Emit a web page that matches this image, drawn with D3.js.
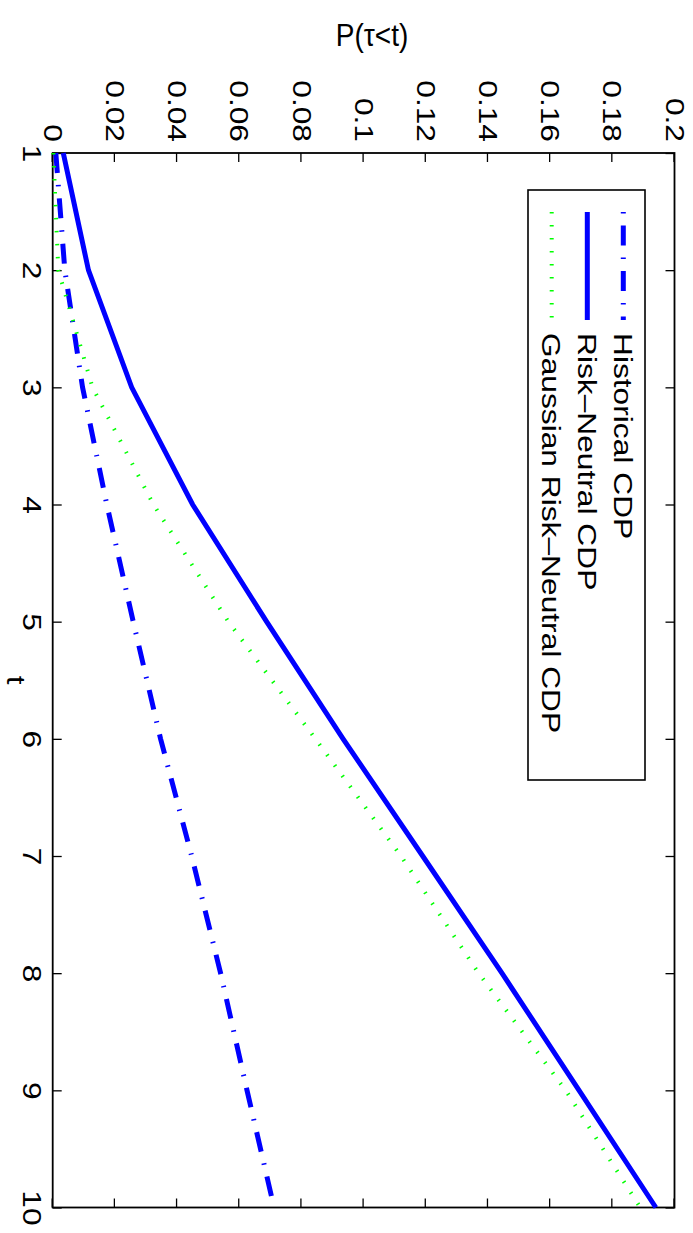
<!DOCTYPE html>
<html lang="en">

<head>
    <meta charset="UTF-8">
    <script src="https://cdnjs.cloudflare.com/ajax/libs/d3/7.9.0/d3.min.js"></script>
    <title>CDP curves</title>
    <style>
        body {
            margin: 0;
            background-color: white;
            font-family: "Liberation Sans", Arial, sans-serif;
        }

        svg {
            display: block;
        }
    </style>
</head>

<body>
    <div id="content"></div>
    <script>
        // data
        const tValues = [1, 2, 3, 4, 5, 6, 7, 8, 9, 10];
        const historical = [0.0010, 0.0039, 0.0096, 0.0174, 0.0259, 0.0347, 0.0447, 0.0540, 0.0625, 0.0712];
        const riskNeutral = [0.0034, 0.0115, 0.0254, 0.0450, 0.0688, 0.0934, 0.1190, 0.1445, 0.1693, 0.1940];
        const gaussian = [0.0002, 0.0018, 0.0128, 0.0324, 0.0565, 0.0845, 0.1120, 0.1370, 0.1650, 0.1890];

        const tTicks = [1, 2, 3, 4, 5, 6, 7, 8, 9, 10];
        const pTicks = [0, 0.02, 0.04, 0.06, 0.08, 0.1, 0.12, 0.14, 0.16, 0.18, 0.2];
        const pLabels = ['0', '0.02', '0.04', '0.06', '0.08', '0.1', '0.12', '0.14', '0.16', '0.18', '0.2'];
        const seriesNames = ['Historical CDP', 'Risk\u2013Neutral CDP', 'Gaussian Risk\u2013Neutral CDP'];

        const width = 693;
        const height = 1233;
        const stretch = 1.22; // text looks stretched along the page height
        const fontSize = 26;

        const svg = d3.select('#content').append('svg')
            .attr('width', width)
            .attr('height', height);

        // the figure is a landscape plot turned 90 degrees clockwise
        const g = svg.append('g')
            .attr('transform', `translate(${width},0) rotate(90)`);

        const x = d3.scaleLinear().domain([1, 10]).range([153, 1207.5]);
        const y = d3.scaleLinear().domain([0, 0.2]).range([640.3, 18.5]);

        const styleAxis = sel => {
            sel.select('.domain').remove();
            sel.selectAll('.tick line').attr('stroke', 'black').attr('stroke-width', 1.3);
        };

        // t axis (shows on the left of the page)
        const tAxis = g.append('g')
            .attr('transform', `translate(0,${y(0)})`)
            .call(d3.axisBottom(x).tickValues(tTicks).tickSize(-9).tickSizeOuter(0).tickFormat(d3.format('d')))
            .call(styleAxis);
        tAxis.selectAll('text')
            .attr('y', 30)
            .attr('dy', null)
            .attr('fill', 'black')
            .attr('font-size', fontSize)
            .attr('font-family', '"Liberation Sans", Arial, sans-serif')
            .attr('transform', `scale(${stretch},1)`);

        // P axis (shows at the top of the page)
        const pAxis = g.append('g')
            .attr('transform', `translate(${x(1)},0)`)
            .call(d3.axisLeft(y).tickValues(pTicks).tickSize(-9).tickSizeOuter(0).tickFormat((d, i) => pLabels[i]))
            .call(styleAxis);
        pAxis.selectAll('text')
            .attr('x', -11 / stretch)
            .attr('fill', 'black')
            .attr('font-size', fontSize)
            .attr('font-family', '"Liberation Sans", Arial, sans-serif')
            .attr('transform', `scale(${stretch},1)`);

        // mirrored ticks on the other two sides
        g.append('g')
            .attr('transform', `translate(0,${y(0.2)})`)
            .call(d3.axisTop(x).tickValues(tTicks).tickSize(-9).tickSizeOuter(0).tickFormat(''))
            .call(styleAxis);
        g.append('g')
            .attr('transform', `translate(${x(10)},0)`)
            .call(d3.axisRight(y).tickValues(pTicks).tickSize(-9).tickSizeOuter(0).tickFormat(''))
            .call(styleAxis);

        // box
        g.append('rect')
            .attr('x', x(1))
            .attr('y', y(0.2))
            .attr('width', x(10) - x(1))
            .attr('height', y(0) - y(0.2))
            .attr('fill', 'none')
            .attr('stroke', 'black')
            .attr('stroke-width', 1.8);

        const line = d3.line()
            .x((d, i) => x(tValues[i]))
            .y(d => y(d));

        const styles = [
            { color: '#0000ff', width: 5, dash: '20,12,1.5,12' },
            { color: '#0000ff', width: 5, dash: null },
            { color: '#00ff00', width: 4, dash: '1.5,11.5' }
        ];
        const series = [historical, riskNeutral, gaussian];

        series.forEach((s, i) => {
            g.append('path')
                .datum(s)
                .attr('d', line)
                .attr('fill', 'none')
                .attr('stroke', styles[i].color)
                .attr('stroke-width', styles[i].width)
                .attr('stroke-dasharray', styles[i].dash);
        });

        // axis labels
        g.append('text')
            .attr('transform', `translate(${(x(1) + x(10)) / 2},686) scale(${stretch},1)`)
            .attr('text-anchor', 'middle')
            .attr('font-size', fontSize)
            .text('t');

        svg.append('text')
            .attr('transform', 'translate(372,46) scale(1,1.1)')
            .attr('text-anchor', 'middle')
            .attr('font-size', 28)
            .text('P(\u03c4<t)');

        // legend
        const legend = g.append('g');
        legend.append('rect')
            .attr('x', 190)
            .attr('y', 48)
            .attr('width', 590)
            .attr('height', 117)
            .attr('fill', 'white')
            .attr('stroke', 'black')
            .attr('stroke-width', 1.6);

        const rowY = [69.7, 105.7, 141.3];
        seriesNames.forEach((name, i) => {
            legend.append('line')
                .attr('x1', 212)
                .attr('x2', 320)
                .attr('y1', rowY[i])
                .attr('y2', rowY[i])
                .attr('stroke', styles[i].color)
                .attr('stroke-width', styles[i].width)
                .attr('stroke-dasharray', styles[i].dash)
                .attr('stroke-dashoffset', i === 0 ? 32 : 0);
            legend.append('text')
                .attr('transform', `translate(333,${rowY[i] + 9.5}) scale(${stretch},1)`)
                .attr('font-size', fontSize)
                .text(name);
        });
    </script>
</body>

</html>
